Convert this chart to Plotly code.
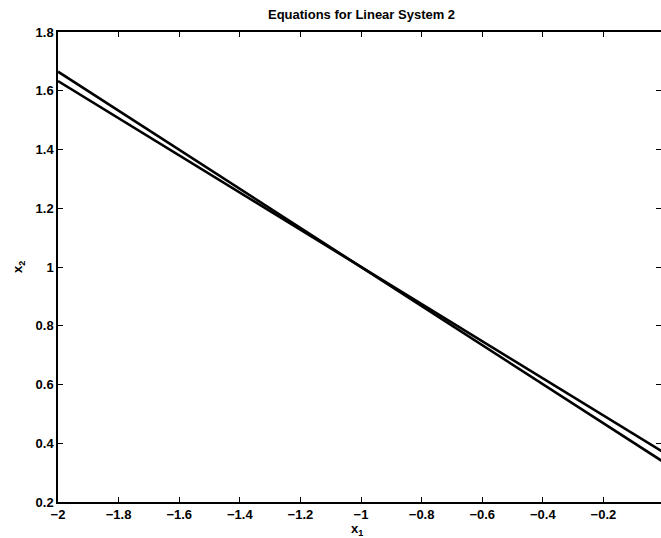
import plotly.graph_objects as go

x_vals = [-2.0, 0.0]
line1_y = [1.665, 0.335]
line2_y = [1.633, 0.368]
x_ticks = [-2, -1.8, -1.6, -1.4, -1.2, -1, -0.8, -0.6, -0.4, -0.2, 0]
x_tick_labels = ["\u22122", "\u22121.8", "\u22121.6", "\u22121.4", "\u22121.2", "\u22121", "\u22120.8", "\u22120.6", "\u22120.4", "\u22120.2", "0"]
y_ticks = [0.2, 0.4, 0.6, 0.8, 1.0, 1.2, 1.4, 1.6, 1.8]
y_tick_labels = ["0.2", "0.4", "0.6", "0.8", "1", "1.2", "1.4", "1.6", "1.8"]

W, H = 661, 538
L, R, T, B = 58, 0, 32, 36

fig = go.Figure()
for ys in (line1_y, line2_y):
    fig.add_trace(go.Scatter(x=x_vals, y=ys, mode="lines",
                             line=dict(color="black", width=2.6),
                             showlegend=False, hoverinfo="skip"))

font = dict(family="Liberation Sans, Arial, sans-serif", size=13, color="black", weight="bold")
axis_common = dict(showgrid=False, zeroline=False, showline=True, linecolor="black",
                   linewidth=1.5, mirror="ticks", ticks="inside", ticklen=5,
                   tickwidth=1.2, tickcolor="black", tickfont=font, automargin=False)

fig.update_layout(
    width=W, height=H,
    margin=dict(l=L, r=R, t=T, b=B, autoexpand=False),
    paper_bgcolor="white", plot_bgcolor="white",
    xaxis=dict(range=[-2, -0.01], tickvals=x_ticks, ticktext=x_tick_labels, **axis_common),
    yaxis=dict(range=[0.2, 1.8], tickvals=y_ticks, ticktext=y_tick_labels, **axis_common),
)

fig.add_annotation(text="Equations for Linear System 2", xref="paper", yref="paper",
                   x=(361 - L) / (W - L - R), y=1 + (T - 15) / (H - T - B),
                   xanchor="center", yanchor="middle", showarrow=False, font=font)
fig.add_annotation(text="x<sub>1</sub>", xref="paper", yref="paper",
                   x=(357 - L) / (W - L - R), y=-(529 - (H - B)) / (H - T - B),
                   xanchor="center", yanchor="middle", showarrow=False, font=font)
fig.add_annotation(text="x<sub>2</sub>", xref="paper", yref="paper",
                   x=-(L - 18) / (W - L - R), y=(H - B - 267) / (H - T - B),
                   xanchor="center", yanchor="middle", textangle=-90,
                   showarrow=False, font=font)

fig.write_html("out.html", config={"displayModeBar": False},
               post_script="document.body.style.margin='0';document.body.style.overflow='hidden';")
